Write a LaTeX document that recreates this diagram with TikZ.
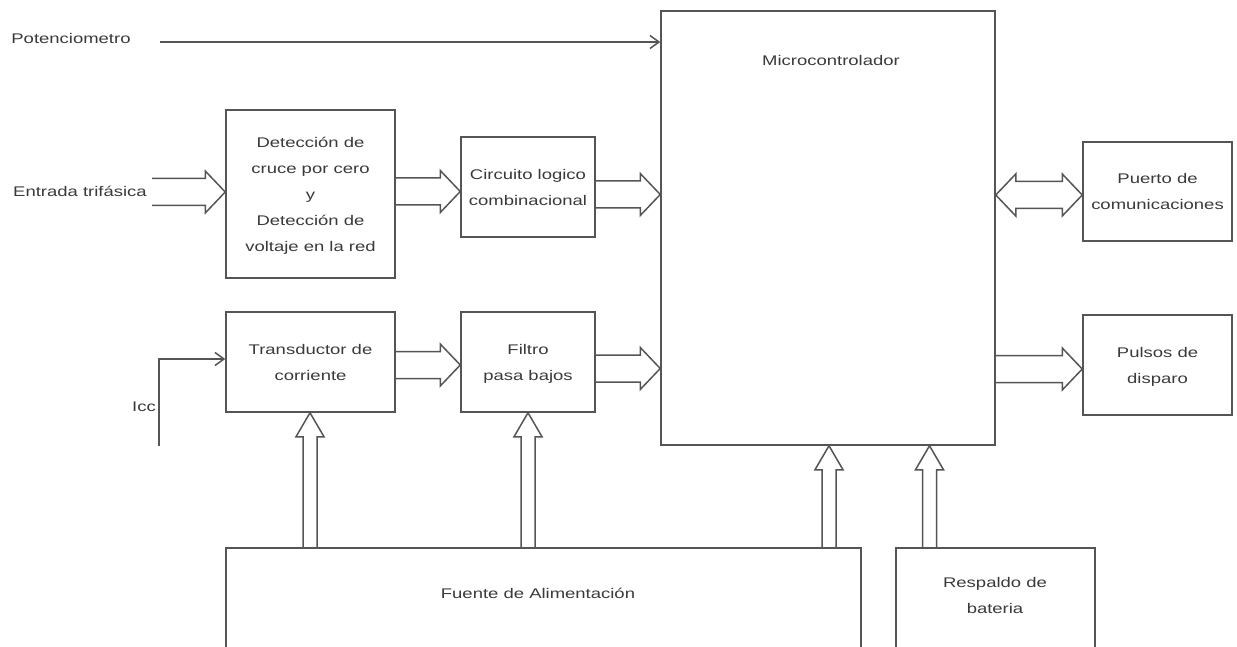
\documentclass[tikz,border=0pt]{standalone}
\usepackage{fontspec}
\setmainfont{Liberation Sans}
\usepackage{graphicx}
\usetikzlibrary{calc,arrows.meta}
\definecolor{ln}{HTML}{555555}
\definecolor{tc}{HTML}{3A3A3A}
\newcommand\tx[1]{\scalebox{1.32}[1]{\begin{tabular}{@{}c@{}}#1\end{tabular}}}
\def\hh{13.5}\def\HH{21}\def\LL{20}
\def\vh{7}\def\VH{14}\def\VL{24}
\newcommand\fatR[3]{%
  \draw[fat] ($(#1|-#3)+(0,-\hh)$) -- ($(#2|-#3)+(-\LL,-\hh)$) -- ($(#2|-#3)+(-\LL,-\HH)$) -- (#2|-#3)
    -- ($(#2|-#3)+(-\LL,\HH)$) -- ($(#2|-#3)+(-\LL,\hh)$) -- ($(#1|-#3)+(0,\hh)$);}
\newcommand\fatU[3]{%
  \draw[fat] ($(#3|-#1)+(-\vh,0)$) -- ($(#3|-#2)+(-\vh,\VL)$) -- ($(#3|-#2)+(-\VH,\VL)$) -- (#3|-#2)
    -- ($(#3|-#2)+(\VH,\VL)$) -- ($(#3|-#2)+(\vh,\VL)$) -- ($(#3|-#1)+(\vh,0)$);}
\newcommand\fatLR[3]{%
  \draw[fat] (#1|-#3) -- ($(#1|-#3)+(\LL,-\HH)$) -- ($(#1|-#3)+(\LL,-\hh)$) -- ($(#2|-#3)+(-\LL,-\hh)$)
    -- ($(#2|-#3)+(-\LL,-\HH)$) -- (#2|-#3) -- ($(#2|-#3)+(-\LL,\HH)$) -- ($(#2|-#3)+(-\LL,\hh)$)
    -- ($(#1|-#3)+(\LL,\hh)$) -- ($(#1|-#3)+(\LL,\HH)$) -- cycle;}
\begin{document}
\begin{tikzpicture}[x=1pt,y=-1pt,
  box/.style={draw=ln,line width=1.5pt,rectangle,inner sep=0pt,text=tc,font=\fontsize{14}{26}\selectfont},
  lbl/.style={inner sep=0pt,text=tc,font=\fontsize{14}{26}\selectfont},
  fat/.style={draw=ln,line width=1.5pt,line join=miter},
  thinarrow/.style={draw=ln,line width=1.5pt,-{Straight Barb[length=9pt,width=13pt]}}]
\useasboundingbox (0,0) rectangle (1237,647);
\fill[white] (0,0) rectangle (1237,647);
\clip (0,0) rectangle (1237,647);

% boxes
\node[box,minimum width=334pt,minimum height=434pt] (mc) at (828,228) {};
\node[lbl] (mct) at (831,60) {\tx{Microcontrolador}};
\node[box,minimum width=169pt,minimum height=168pt] (det) at (310.5,194)
  {\tx{Detección de\\cruce por cero\\y\\Detección de\\voltaje en la red}};
\node[box,minimum width=134pt,minimum height=100pt] (cir) at (528,187)
  {\tx{Circuito logico\\combinacional}};
\node[box,minimum width=169pt,minimum height=100pt] (tr) at (310.5,362)
  {\tx{Transductor de\\corriente}};
\node[box,minimum width=134pt,minimum height=100pt] (fil) at (528,362)
  {\tx{Filtro\\pasa bajos}};
\node[box,minimum width=149pt,minimum height=99pt] (pue) at (1157.5,191.5)
  {\tx{Puerto de\\comunicaciones}};
\node[box,minimum width=149pt,minimum height=100pt] (pul) at (1157.5,365)
  {\tx{Pulsos de\\disparo}};
\node[box,minimum width=635pt,minimum height=152pt] (fue) at (543.5,624) {};
\node[lbl] (fuet) at (538,593) {\tx{Fuente de Alimentación}};
\node[box,minimum width=199pt,minimum height=152pt] (res) at (995.5,624) {};
\node[lbl] (rest) at (995,595) {\tx{Respaldo de\\bateria}};

% free labels
\node[lbl] (pot) at (71,38) {\tx{Potenciometro}};
\node[lbl] (ent) at (80,191) {\tx{Entrada trifásica}};
\node[lbl] (icc) at (144,406) {\tx{Icc}};

% thin arrows
\coordinate (potS) at (160,42);
\draw[thinarrow] (potS) -- (mc.west|-potS);
\coordinate (iccS) at (159,446);
\coordinate (iccY) at (0,359);
\draw[thinarrow] (iccS) |- (tr.west|-iccY);

% fat horizontal arrows
\coordinate (entS) at (152,192);
\coordinate (y2) at (0,191.5);
\coordinate (y3) at (0,194.5);
\coordinate (y4) at (0,365);
\coordinate (y5) at (0,368.5);
\coordinate (y6) at (0,369);
\coordinate (y7) at (0,195);
\fatR{entS}{det.west}{entS}
\fatR{det.east}{cir.west}{y2}
\fatR{cir.east}{mc.west}{y3}
\fatR{tr.east}{fil.west}{y4}
\fatR{fil.east}{mc.west}{y5}
\fatR{mc.east}{pul.west}{y6}
\fatLR{mc.east}{pue.west}{y7}

% fat vertical arrows
\coordinate (x1) at (310,0);
\coordinate (x2) at (528,0);
\coordinate (x3) at (829,0);
\coordinate (x4) at (929.5,0);
\fatU{fue.north}{tr.south}{x1}
\fatU{fue.north}{fil.south}{x2}
\fatU{fue.north}{mc.south}{x3}
\fatU{res.north}{mc.south}{x4}
\end{tikzpicture}
\end{document}
